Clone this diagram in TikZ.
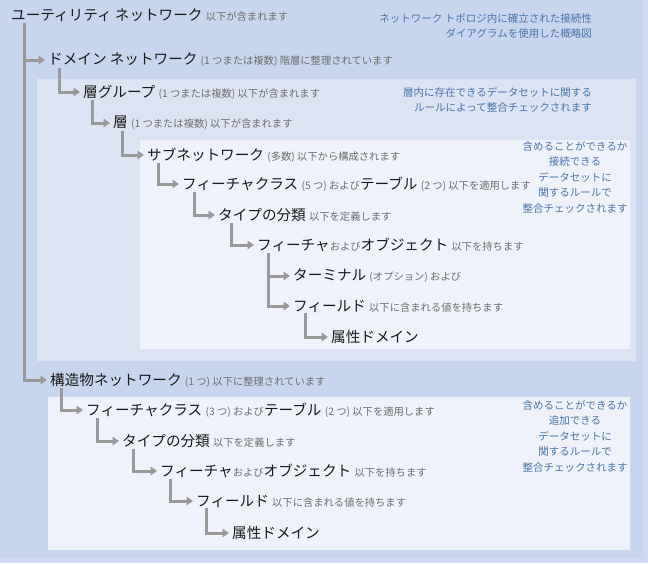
\documentclass[tikz,border=0pt]{standalone}
\usepackage{fontspec}
\setmainfont{Noto Sans CJK JP}
\usetikzlibrary{arrows.meta}
\definecolor{bgouter}{HTML}{C7D5EE}
\definecolor{bgedge}{HTML}{D0DBF1}
\definecolor{bgdomain}{HTML}{DCE3F2}
\definecolor{bginner}{HTML}{EFF2FA}
\definecolor{linkgray}{HTML}{999999}
\definecolor{notegray}{HTML}{6E6E6E}
\definecolor{noteblue}{HTML}{4A74AE}
\newcommand{\sm}[1]{{\fontsize{10.3}{12}\selectfont\color{notegray}#1}}
\tikzset{
  item/.style={anchor=west, inner sep=1pt, font=\fontsize{14.6}{16}\selectfont, text=black!90},
  remark/.style={font=\fontsize{10.5}{15.5}\selectfont, text=noteblue, inner sep=0pt},
  link/.style={draw=linkgray, line width=3pt, -{Triangle[width=8.5pt,length=6.5pt]}, shorten >=2pt},
}

\begin{document}
\begin{tikzpicture}[x=1pt,y=-1pt]
   % background panels
   \fill[bgedge] (0,0) rectangle (648,563);
   \fill[bgouter] (0,0) rectangle (643,558);
   \useasboundingbox (0,0) rectangle (648,563);
   \fill[bgdomain] (37,79) rectangle (636,361);
   \fill[bginner] (140,140) rectangle (630,349);
   \fill[bginner] (48,397) rectangle (630,550);

   % utility network tree
   \node[item] (util)   at (10,15)  {ユーティリティ ネットワーク \sm{以下が含まれます}};
   \node[item] (domain) at (47,60)  {ドメイン ネットワーク \sm{(1 つまたは複数) 階層に整理されています}};
   \node[item] (lgroup) at (82,92)  {層グループ \sm{(1 つまたは複数) 以下が含まれます}};
   \node[item] (layer)  at (112,123) {層 \sm{(1 つまたは複数) 以下が含まれます}};
   \node[item] (subnet) at (146,155) {サブネットワーク \sm{(多数) 以下から構成されます}};
   \node[item] (fclass) at (181,184) {フィーチャクラス \sm{(5 つ) および}テーブル \sm{(2 つ) 以下を適用します}};
   \node[item] (types)  at (217,215) {タイプの分類 \sm{以下を定義します}};
   \node[item] (feat)   at (256,245) {フィーチャ\sm{および}オブジェクト \sm{以下を持ちます}};
   \node[item] (term)   at (292,276) {ターミナル \sm{(オプション) および}};
   \node[item] (field)  at (292,306) {フィールド \sm{以下に含まれる値を持ちます}};
   \node[item] (attr)   at (330,337) {属性ドメイン};
   \node[item] (struct) at (49,380) {構造物ネットワーク \sm{(1 つ) 以下に整理されています}};
   \node[item] (sfclass) at (85,410) {フィーチャクラス \sm{(3 つ) および}テーブル \sm{(2 つ) 以下を適用します}};
   \node[item] (stypes) at (121,441) {タイプの分類 \sm{以下を定義します}};
   \node[item] (sfeat)  at (159,471) {フィーチャ\sm{および}オブジェクト \sm{以下を持ちます}};
   \node[item] (sfield) at (195,501) {フィールド \sm{以下に含まれる値を持ちます}};
   \node[item] (sattr)  at (231,533) {属性ドメイン};

   % notes on the right
   \node[remark, align=right, anchor=east] (topnote) at (592,26)
      {ネットワーク トポロジ内に確立された接続性\\ダイアグラムを使用した概略図};
   \node[remark, align=right, anchor=east] (layernote) at (592,100)
      {層内に存在できるデータセットに関する\\ルールによって整合チェックされます};
   \node[remark, align=center] (subnote) at (575,177)
      {含めることができるか\\接続できる\\データセットに\\関するルールで\\整合チェックされます};
   \node[remark, align=center] (structnote) at (575,436)
      {含めることができるか\\追加できる\\データセットに\\関するルールで\\整合チェックされます};

   % connectors
   \draw[link] ([xshift=14pt]util.south west) |- (domain.west);
   \draw[link] ([xshift=14pt]util.south west) |- (struct.west);
   \draw[link] ([xshift=12pt]domain.south west) |- (lgroup.west);
   \draw[link] ([xshift=10pt]lgroup.south west) |- (layer.west);
   \draw[link] ([xshift=10pt]layer.south west) |- (subnet.west);
   \draw[link] ([xshift=12pt]subnet.south west) |- (fclass.west);
   \draw[link] ([xshift=13pt]fclass.south west) |- (types.west);
   \draw[link] ([xshift=14pt]types.south west) |- (feat.west);
   \draw[link] ([xshift=12pt]feat.south west) |- (term.west);
   \draw[link] ([xshift=12pt]feat.south west) |- (field.west);
   \draw[link] ([xshift=13pt]field.south west) |- (attr.west);
   \draw[link] ([xshift=12pt]struct.south west) |- (sfclass.west);
   \draw[link] ([xshift=12pt]sfclass.south west) |- (stypes.west);
   \draw[link] ([xshift=12pt]stypes.south west) |- (sfeat.west);
   \draw[link] ([xshift=11pt]sfeat.south west) |- (sfield.west);
   \draw[link] ([xshift=11pt]sfield.south west) |- (sattr.west);
\end{tikzpicture}
\end{document}
